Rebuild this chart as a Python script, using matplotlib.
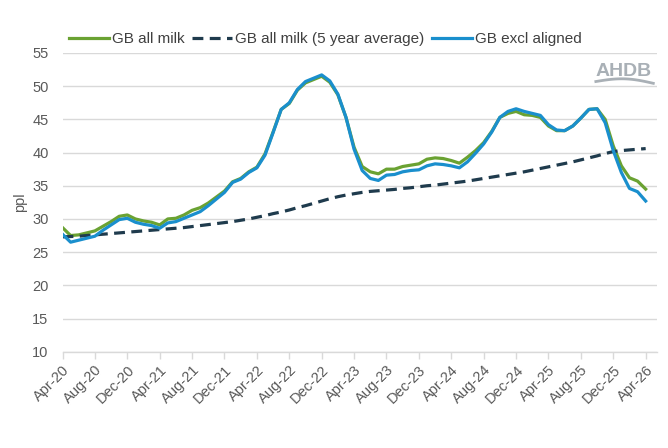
import numpy as np
import matplotlib
matplotlib.use("Agg")
import matplotlib.pyplot as plt

plt.rcParams["font.family"] = ["Liberation Sans", "DejaVu Sans"]

# monthly, Apr-20 .. Apr-26
years = [20, 21, 22, 23, 24, 25, 26]
month_names = ["Jan", "Feb", "Mar", "Apr", "May", "Jun",
               "Jul", "Aug", "Sep", "Oct", "Nov", "Dec"]

gb_all_milk = [
    28.7, 27.5, 27.6, 27.9, 28.2, 28.9, 29.6, 30.4, 30.6, 30.0, 29.7, 29.5,
    29.1, 30.0, 30.1, 30.6, 31.3, 31.7, 32.4, 33.3, 34.2, 35.6, 36.1, 37.1,
    37.8, 39.8, 43.1, 46.5, 47.4, 49.4, 50.5, 51.0, 51.5, 50.6, 48.7, 45.3,
    40.8, 37.9, 37.1, 36.8, 37.5, 37.5, 37.9, 38.1, 38.3, 39.0, 39.2, 39.1,
    38.8, 38.4, 39.3, 40.3, 41.5, 43.2, 45.3, 45.9, 46.2, 45.7, 45.6, 45.3,
    44.0, 43.3, 43.3, 44.0, 45.2, 46.5, 46.6, 45.0, 41.0, 38.0, 36.2, 35.7,
    34.5,
]

gb_5yr_avg = [
    27.3, 27.35, 27.4, 27.5, 27.6, 27.7, 27.8, 27.9, 28.0, 28.1, 28.2, 28.3,
    28.4, 28.5, 28.6, 28.7, 28.85, 29.0, 29.15, 29.3, 29.45, 29.6, 29.8, 30.0,
    30.25, 30.5, 30.8, 31.05, 31.35, 31.7, 32.0, 32.35, 32.7, 33.05, 33.35, 33.6,
    33.8, 34.0, 34.15, 34.25, 34.35, 34.45, 34.6, 34.7, 34.85, 35.0, 35.1, 35.25,
    35.4, 35.55, 35.7, 35.9, 36.1, 36.3, 36.5, 36.7, 36.9, 37.1, 37.35, 37.6,
    37.85, 38.1, 38.35, 38.6, 38.9, 39.2, 39.5, 39.85, 40.15, 40.3, 40.4, 40.5,
    40.6,
]

gb_excl_aligned = [
    27.7, 26.5, 26.8, 27.1, 27.4, 28.3, 29.1, 29.9, 30.1, 29.5, 29.2, 29.0,
    28.6, 29.4, 29.6, 30.1, 30.6, 31.1, 32.0, 33.0, 34.0, 35.5, 36.0, 37.0,
    37.7, 39.6, 43.0, 46.5, 47.5, 49.5, 50.7, 51.2, 51.7, 50.8, 48.8, 45.3,
    40.5, 37.3, 36.1, 35.8, 36.6, 36.7, 37.1, 37.3, 37.4, 38.0, 38.3, 38.2,
    38.0, 37.7, 38.6, 39.9, 41.3, 43.1, 45.3, 46.2, 46.6, 46.2, 45.9, 45.6,
    44.2, 43.4, 43.3, 44.0, 45.2, 46.5, 46.6, 44.5, 40.3, 37.0, 34.6, 34.1,
    32.7,
]

labels = []
for y in years:
    for m in range(12):
        if y == 20 and m < 3:
            continue
        if y == 26 and m > 3:
            continue
        labels.append(f"{month_names[m]}-{y}")

green = "#6aa232"
blue = "#1a8fcd"
navy = "#1f3b4d"
grey_text = "#595959"
grid_col = "#d9d9d9"

x = np.arange(len(labels))

fig = plt.figure(figsize=(6.68, 4.48), dpi=100)
ax = fig.add_axes([62.5 / 668, 1 - 351.7 / 448, (657 - 62.5) / 668, (351.7 - 53) / 448])

ax.plot(x, gb_all_milk, color=green, lw=2.3, label="GB all milk",
        solid_joinstyle="round", zorder=3)
ax.plot(x, gb_5yr_avg, color=navy, lw=2.3, ls=(0, (3.4, 2.0)),
        label="GB all milk (5 year average)", zorder=4)
ax.plot(x, gb_excl_aligned, color=blue, lw=2.3, label="GB excl aligned",
        solid_joinstyle="round", zorder=5)

ax.set_ylim(10, 55)
ax.set_yticks(np.arange(10, 56, 5))
ax.set_xlim(0, 73.4)
ax.set_xticks(x[::4])
ax.set_xticklabels(labels[::4], rotation=45, ha="right", rotation_mode="anchor")

ax.grid(axis="y", color=grid_col, lw=1)
ax.set_axisbelow(True)
for s in ["top", "right", "left"]:
    ax.spines[s].set_visible(False)
ax.spines["bottom"].set_color(grid_col)
ax.spines["bottom"].set_linewidth(1)
ax.tick_params(axis="x", colors=grid_col, length=5, width=1, labelcolor=grey_text,
               labelsize=10.5, pad=3)
ax.tick_params(axis="y", length=0, labelcolor=grey_text, labelsize=10.5, pad=10)
ax.set_ylabel("ppl", color=grey_text, fontsize=10.5, labelpad=4)

ax.legend(loc="upper center", bbox_to_anchor=(0.442, 1.115), ncol=3, frameon=False,
          fontsize=11, handlelength=2.6, handletextpad=0.2, columnspacing=0.5,
          labelcolor="#404040")

# AHDB logo
fig.text(0.892, 0.83, "AHDB", color="#a9b0b6", fontsize=14, fontweight="bold")
t = np.linspace(0, 1, 50)
fig.lines.append(plt.Line2D(0.892 + 0.086 * t,
                            0.818 + 0.008 * np.sin(np.pi * t) - 0.004 * t,
                            transform=fig.transFigure, color="#a9b0b6", lw=2))

fig.savefig("out.png", dpi=100)
